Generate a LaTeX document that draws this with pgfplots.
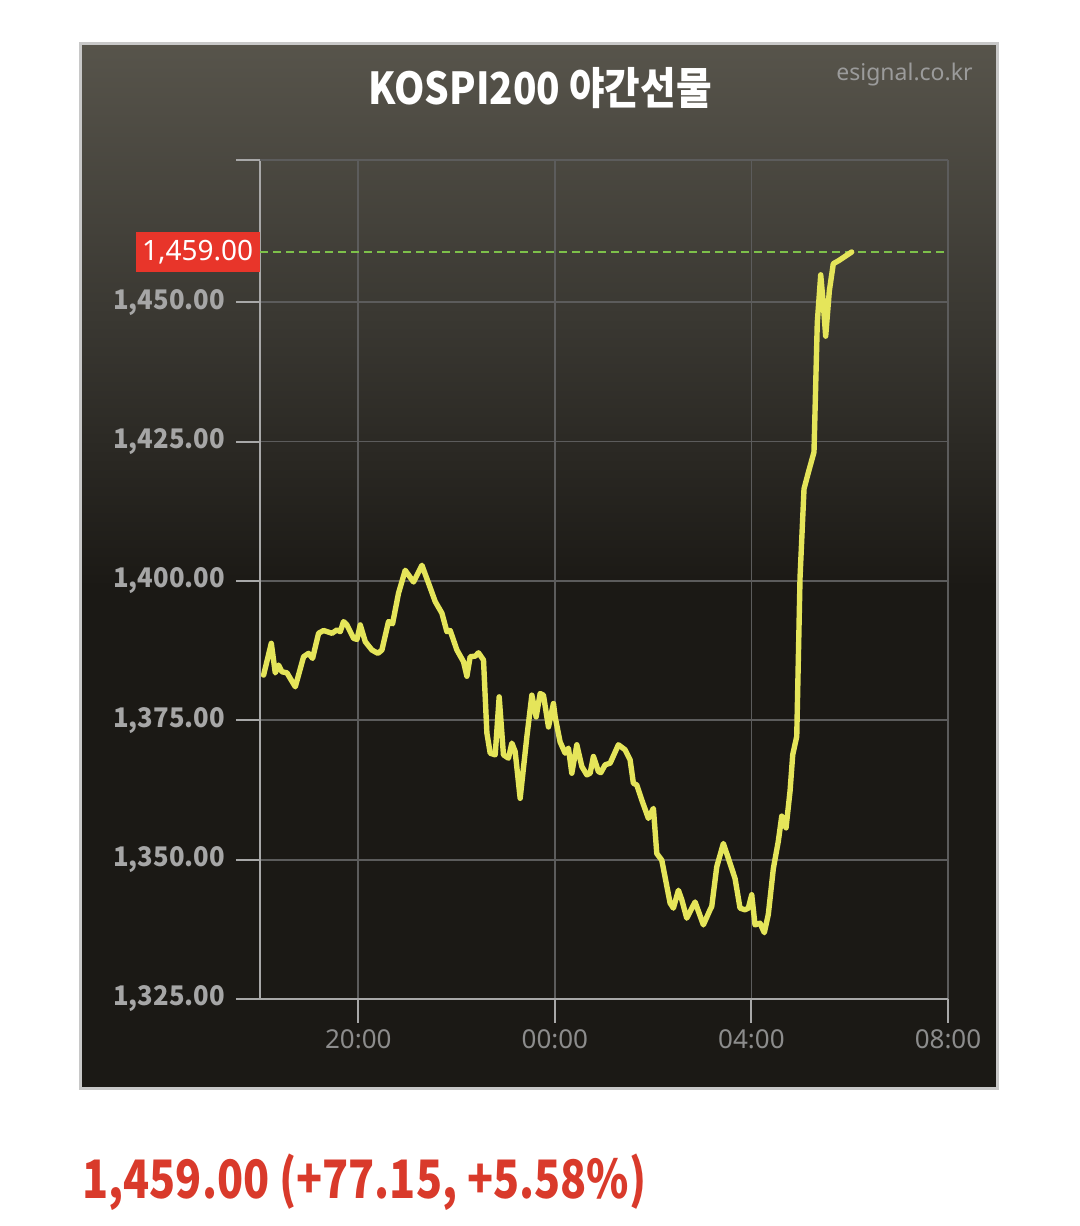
\documentclass[border=0pt]{standalone}
\usepackage{pgfplots}
\pgfplotsset{compat=1.18}
\usepackage{fontspec}
\setmainfont{Noto Sans}
\newfontfamily\kr{Noto Sans CJK KR}
\newcommand\yl[1]{\scalebox{0.95}[1]{#1}}
\definecolor{panelTop}{HTML}{57544B}
\definecolor{panelMid}{HTML}{3A3832}
\definecolor{panelBot}{HTML}{1B1915}
\definecolor{panelBorder}{HTML}{C8C8C8}
\definecolor{gridc}{HTML}{5C5C5C}
\definecolor{axisc}{HTML}{A8A8A8}
\definecolor{ylab}{HTML}{A6A6A6}
\definecolor{xlab}{HTML}{8C8C8C}
\definecolor{linec}{HTML}{E5E55A}
\definecolor{greenc}{HTML}{7DC04A}
\definecolor{boxred}{HTML}{E8352A}
\definecolor{txtred}{HTML}{D93A2B}
\definecolor{wm}{HTML}{9B9B9B}
\pgfdeclareverticalshading{panelshade}{100bp}{color(0bp)=(panelBot); color(49bp)=(panelBot); color(62bp)=(panelMid); color(75bp)=(panelTop); color(100bp)=(panelTop)}
\begin{document}
\begin{tikzpicture}[x=1pt,y=1pt]
\useasboundingbox (0,0) rectangle (540,613);
\fill[white] (0,0) rectangle (540,613);
\shade[shading=panelshade] (40,68.5) rectangle (498.5,591);
\draw[panelBorder, line width=1.5pt] (40,68.5) rectangle (498.5,591);
\node[font=\kr\bfseries\fontsize{22}{22}\selectfont, text=white, anchor=center] at (270,569) {\scalebox{0.88}[1]{KOSPI200 야간선물}};
\node[font=\fontsize{11.5}{11.5}\selectfont, text=wm, anchor=east, inner sep=0pt] at (486.5,575.5) {esignal.co.kr};
\node[font=\kr\bfseries\fontsize{26.5}{26.5}\selectfont, text=txtred, anchor=west, inner sep=0pt] at (41,22) {\scalebox{0.81}[1]{1,459.00 (+77.15, +5.58\%)}};
\begin{axis}[
  at={(130pt,113.5pt)}, anchor=south west,
  scale only axis, width=344pt, height=419.5pt,
  xmin=0, xmax=14, ymin=1325, ymax=1475.5,
  clip=false,
  axis x line*=bottom, axis y line*=left,
  axis line style={draw=axisc, line width=1.3pt, -},
  xtick={2,6,10,14},
  xticklabels={20:00,00:00,04:00,08:00},
  ytick={1325,1350,1375,1400,1425,1450},
  yticklabels={\yl{1,325.00},\yl{1,350.00},\yl{1,375.00},\yl{1,400.00},\yl{1,425.00},\yl{1,450.00}},
  extra y ticks={1475.5}, extra y tick labels={},
  tick align=outside,
  major tick length=12pt,
  tick style={draw=axisc, line width=1pt},
  grid=major,
  major grid style={draw=gridc, line width=0.9pt},
  x tick label style={font=\fontsize{13}{13}\selectfont, text=xlab},
  y tick label style={font=\kr\bfseries\fontsize{13.5}{13.5}\selectfont, text=ylab, xshift=-2pt},
]
\addplot[greenc, line width=1pt, dash pattern=on 4pt off 2.5pt] coordinates {(0,1459) (14,1459)};
\addplot[linec, line width=2.7pt, line join=round, line cap=round] coordinates {
(0.073,1383.1) (0.230,1388.8) (0.311,1383.5) (0.378,1384.9) (0.447,1383.7)
(0.549,1383.5) (0.718,1381.0) (0.887,1386.4) (0.988,1387.0) (1.070,1386.1)
(1.192,1390.6) (1.293,1391.1) (1.464,1390.6) (1.566,1391.2) (1.633,1390.9)
(1.700,1392.7) (1.769,1392.1) (1.904,1389.7) (1.973,1389.5) (2.040,1392.1)
(2.142,1389.1) (2.278,1387.6) (2.400,1387.0) (2.481,1387.6) (2.615,1392.7)
(2.697,1392.3) (2.819,1397.8) (2.955,1401.9) (3.124,1399.8) (3.295,1402.8)
(3.429,1399.6) (3.565,1396.3) (3.702,1394.2) (3.803,1390.9) (3.870,1391.1)
(4.007,1387.6) (4.141,1385.5) (4.210,1382.9) (4.277,1386.4) (4.379,1386.5)
(4.446,1387.1) (4.548,1385.8) (4.617,1372.7) (4.684,1369.1) (4.786,1368.8)
(4.867,1379.2) (4.954,1368.8) (5.056,1368.2) (5.125,1370.9) (5.192,1369.4)
(5.294,1361.0) (5.430,1372.0) (5.532,1379.5) (5.619,1375.6) (5.701,1379.8)
(5.768,1379.5) (5.870,1373.8) (5.971,1378.0) (6.006,1375.6) (6.107,1371.1)
(6.209,1369.1) (6.276,1370.0) (6.345,1365.5) (6.447,1370.6) (6.549,1366.7)
(6.651,1365.2) (6.718,1365.5) (6.785,1368.5) (6.886,1365.8) (6.935,1365.6)
(7.023,1367.0) (7.125,1367.3) (7.293,1370.6) (7.429,1369.7) (7.531,1367.9)
(7.598,1363.7) (7.667,1363.4) (7.769,1360.7) (7.903,1357.4) (8.005,1359.2)
(8.074,1351.1) (8.176,1349.9) (8.345,1342.2) (8.412,1341.3) (8.514,1344.5)
(8.583,1342.8) (8.684,1339.5) (8.853,1342.4) (9.022,1338.3) (9.158,1341.0)
(9.193,1341.6) (9.294,1348.7) (9.429,1352.9) (9.600,1348.4) (9.667,1346.6)
(9.768,1341.3) (9.870,1341.0) (9.937,1341.3) (10.006,1343.7) (10.073,1338.3)
(10.175,1338.6) (10.262,1336.9) (10.344,1340.2) (10.446,1348.4) (10.547,1353.3)
(10.617,1357.8) (10.704,1355.7) (10.786,1362.3) (10.840,1368.8) (10.922,1372.1)
(10.989,1400.6) (11.070,1416.5) (11.157,1419.4) (11.273,1423.1) (11.340,1446.3)
(11.410,1454.9) (11.463,1449.6) (11.511,1443.9) (11.585,1452.0) (11.666,1456.9)
(11.768,1457.4) (12.040,1459.0)
};
\node[fill=boxred, text=white, anchor=east, minimum width=62pt, minimum height=20pt, inner sep=0pt, font=\fontsize{14}{14}\selectfont] at (axis cs:0,1459) {1,459.00};
\end{axis}
\end{tikzpicture}
\end{document}
